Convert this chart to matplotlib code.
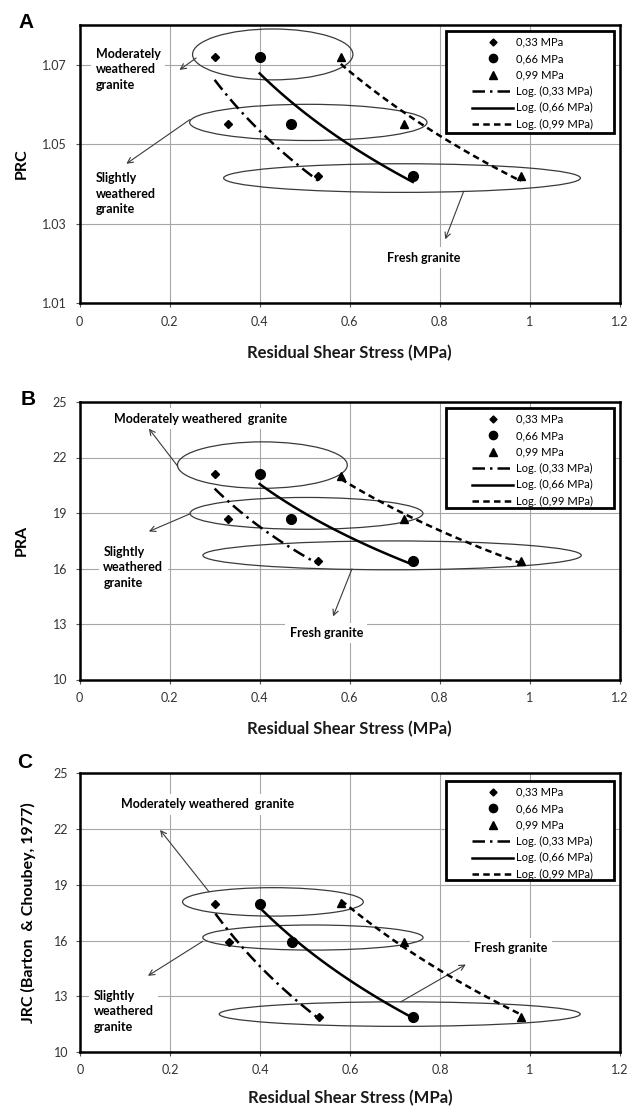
import numpy as np
import matplotlib
matplotlib.use('Agg')
import matplotlib.pyplot as plt
from matplotlib.patches import Ellipse, Rectangle
from matplotlib.lines import Line2D

# ---------------- data ----------------
x_033 = [0.30, 0.33, 0.53]
x_066 = [0.40, 0.47, 0.74]
x_099 = [0.58, 0.72, 0.98]

prc_033 = [1.072, 1.055, 1.042]
prc_066 = [1.072, 1.055, 1.042]
prc_099 = [1.072, 1.055, 1.042]

pra_033 = [21.1, 18.7, 16.4]
pra_066 = [21.1, 18.7, 16.4]
pra_099 = [21.0, 18.7, 16.4]

jrc_033 = [17.95, 15.9, 11.9]
jrc_066 = [17.95, 15.9, 11.9]
jrc_099 = [18.0, 15.9, 11.9]

series_labels = ['0,33 MPa', '0,66 MPa', '0,99 MPa']
trend_labels = ['Log. (0,33 MPa)', 'Log. (0,66 MPa)', 'Log. (0,99 MPa)']
x_ticks = [0, 0.2, 0.4, 0.6, 0.8, 1.0, 1.2]
x_ticklabels = ['0', '0.2', '0.4', '0.6', '0.8', '1', '1.2']
prc_ticks = [1.01, 1.03, 1.05, 1.07]
pra_ticks = [10, 13, 16, 19, 22, 25]
jrc_ticks = [10, 13, 16, 19, 22, 25]
xlabel = 'Residual Shear Stress (MPa)'
mw_label_stack = 'Moderately\nweathered\ngranite'
mw_label_line = 'Moderately weathered  granite'
sw_label = 'Slightly\nweathered\ngranite'
fr_label = 'Fresh granite'

# ---------------- style ----------------
FONT = ['Lato', 'DejaVu Sans']
plt.rcParams['font.family'] = FONT
W, H = 642, 1109
fig = plt.figure(figsize=(W / 100, H / 100), dpi=100)
fig.patch.set_facecolor('white')

markers = ['D', 'o', '^']
msizes = [4.2, 7.0, 6.0]
dash_styles = [(0, (5, 2, 1, 2)), '-', (0, (2.6, 1.7))]
GRID = '#a6a6a6'
ELL = '#3a3a3a'


def px_axes(top, bottom, left=79.5, right=620):
    return [left / W, 1 - bottom / H, (right - left) / W, (bottom - top) / H]


panels = [
    dict(rect=px_axes(25, 303.3), ylim=(1.01, 1.08), yticks=prc_ticks,
         yfmt='{:.2f}', ys=[prc_033, prc_066, prc_099], ylabel='PRC',
         ylabel_x=22, letter='A', letter_xy=(26, 22), xlabel_y=353,
         ellipses=[((0.429, 1.0726), 0.356, 0.0128),
                   ((0.508, 1.0555), 0.527, 0.0091),
                   ((0.716, 1.0415), 0.792, 0.0072)],
         texts=[(mw_label_stack, 0.036, 1.0689, 'left'),
                (sw_label, 0.036, 1.0375, 'left'),
                (fr_label, 0.764, 1.0215, 'center')],
         arrows=[((0.259, 1.0717), (0.222, 1.0687)),
                 ((0.245, 1.0562), (0.104, 1.0451)),
                 ((0.853, 1.0382), (0.812, 1.0261))],
         leg=(0.678, 0.613, 0.310, 0.3665)),
    dict(rect=px_axes(402, 679.5), ylim=(10, 25), yticks=pra_ticks,
         yfmt='{:d}', ys=[pra_033, pra_066, pra_099], ylabel='PRA',
         ylabel_x=22, letter='B', letter_xy=(28, 399), xlabel_y=729,
         ellipses=[((0.406, 21.59), 0.377, 2.51),
                   ((0.504, 18.98), 0.517, 1.72),
                   ((0.694, 16.71), 0.840, 1.56)],
         texts=[(mw_label_line, 0.077, 24.10, 'left'),
                (sw_label, 0.053, 16.07, 'left'),
                (fr_label, 0.548, 12.52, 'center')],
         arrows=[((0.218, 21.53), (0.154, 23.56)),
                 ((0.245, 18.95), (0.154, 18.00)),
                 ((0.605, 15.98), (0.563, 13.41))],
         leg=(0.678, 0.619, 0.310, 0.3605)),
    dict(rect=px_axes(773.3, 1052, left=80.5), ylim=(10, 25), yticks=jrc_ticks,
         yfmt='{:d}', ys=[jrc_033, jrc_066, jrc_099],
         ylabel='JRC (Barton  & Choubey, 1977)',
         ylabel_x=28, letter='C', letter_xy=(25, 763), xlabel_y=1098,
         ellipses=[((0.428, 18.08), 0.402, 1.53),
                   ((0.517, 16.16), 0.490, 1.35),
                   ((0.710, 12.04), 0.803, 1.32)],
         texts=[(mw_label_line, 0.091, 23.33, 'left'),
                (sw_label, 0.029, 12.19, 'left'),
                (fr_label, 0.957, 15.60, 'center')],
         arrows=[((0.286, 18.62), (0.177, 21.95)),
                 ((0.272, 15.96), (0.150, 14.10)),
                 ((0.7125, 12.70), (0.857, 14.71))],
         leg=(0.678, 0.617, 0.310, 0.3565)),
]

xs = [x_033, x_066, x_099]

for p in panels:
    ax = fig.add_axes(p['rect'])
    ax.set_xlim(0, 1.2)
    ax.set_ylim(*p['ylim'])
    ax.set_xticks(x_ticks)
    ax.set_xticklabels(x_ticklabels)
    ax.set_yticks(p['yticks'])
    ax.set_yticklabels([p['yfmt'].format(v) for v in p['yticks']])
    ax.grid(True, color=GRID, lw=0.8, zorder=0)
    ax.set_axisbelow(True)
    for s in ax.spines.values():
        s.set_linewidth(1.8)
        s.set_color('black')
    ax.tick_params(axis='both', direction='out', length=3, width=0.8,
                   color='#555555', labelsize=9, labelcolor='#333333', pad=6)

    # scatter points + log trendlines
    for i in range(3):
        x = np.array(xs[i])
        y = np.array(p['ys'][i])
        ax.plot(x, y, ls='none', marker=markers[i], ms=msizes[i],
                color='black', zorder=6)
        b, a = np.polyfit(np.log(x), y, 1)
        xx = np.linspace(x.min(), x.max(), 100)
        ax.plot(xx, a + b * np.log(xx), color='black', lw=1.8,
                linestyle=dash_styles[i], zorder=5)

    # ellipses
    for (c, w, h) in p['ellipses']:
        ax.add_patch(Ellipse(c, w, h, fill=False, ec=ELL, lw=0.9, zorder=4))

    # annotation texts
    for (t, tx, ty, ha) in p['texts']:
        ax.text(tx, ty, t, ha=ha, va='center', fontsize=9, fontweight='bold',
                linespacing=1.35, color='black', zorder=3,
                bbox=dict(boxstyle='square,pad=0.35', fc='white', ec='none'))

    # arrows
    for (start, end) in p['arrows']:
        ax.annotate('', xy=end, xytext=start,
                    arrowprops=dict(arrowstyle='->', color=ELL, lw=0.8,
                                    shrinkA=0, shrinkB=0,
                                    mutation_scale=10), zorder=4)

    # legend frame
    lx, ly, lw_, lh = p['leg']
    ax.add_patch(Rectangle((lx, ly), lw_, lh, transform=ax.transAxes,
                           fc='white', ec='black', lw=2.0, zorder=7))
    handles = [Line2D([], [], ls='none', marker=markers[i],
                      ms=msizes[i] * 0.85, color='black') for i in range(3)]
    handles += [Line2D([], [], color='black', lw=1.8, linestyle=dash_styles[i])
                for i in range(3)]
    leg = ax.legend(handles, series_labels + trend_labels, loc='upper right',
                    bbox_to_anchor=(lx + lw_ - 0.034, ly + lh - 0.013),
                    frameon=False, fontsize=8, handlelength=3.7,
                    handletextpad=0.25, labelspacing=0.49, borderpad=0.2,
                    borderaxespad=0)
    leg.set_zorder(8)

    # labels
    fig.text(p['ylabel_x'] / W, p['rect'][1] + p['rect'][3] / 2,
             p['ylabel'], rotation=90, ha='center', va='center',
             fontsize=11.5, fontweight='bold', color='black')
    fig.text((p['rect'][0] + p['rect'][2] / 2), 1 - p['xlabel_y'] / H,
             xlabel, ha='center', va='center', fontsize=12,
             fontweight='bold', color='#1a1a1a')
    fig.text(p['letter_xy'][0] / W, 1 - p['letter_xy'][1] / H, p['letter'],
             ha='center', va='center', fontsize=15, fontweight='bold',
             family=['Liberation Sans', 'DejaVu Sans'])

fig.savefig('out.png', dpi=100, facecolor='white')
